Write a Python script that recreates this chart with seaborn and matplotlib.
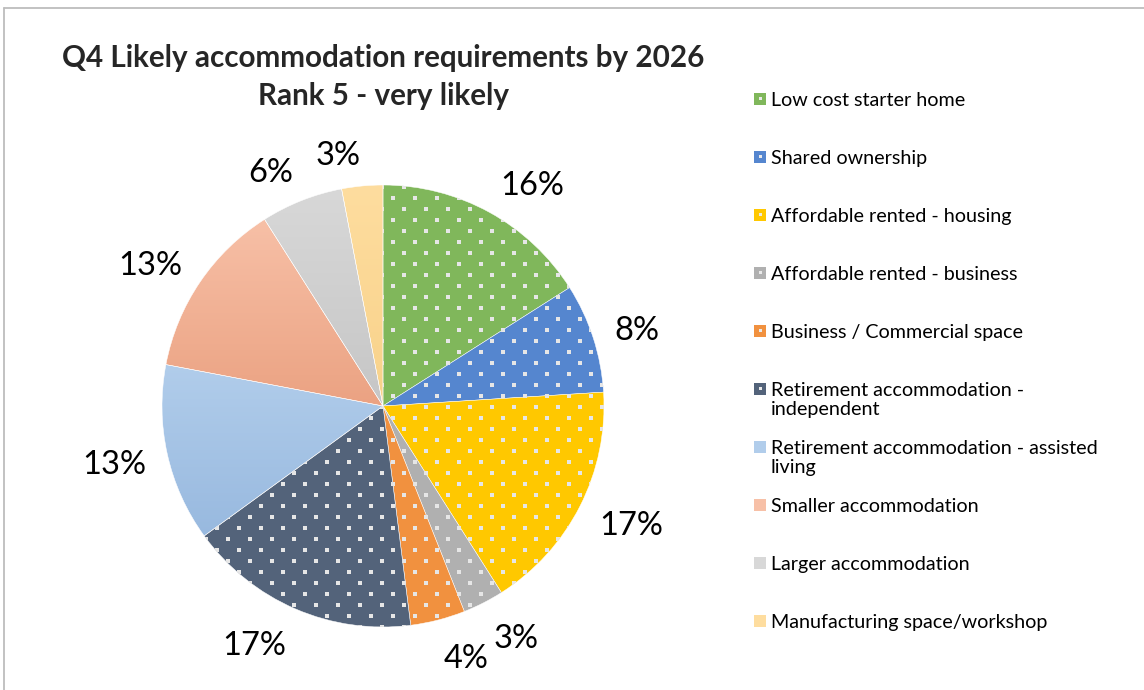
import numpy as np
import matplotlib
matplotlib.use("Agg")
import matplotlib.pyplot as plt
from matplotlib.colors import LinearSegmentedColormap
from matplotlib.patches import Rectangle
from matplotlib.lines import Line2D
import seaborn as sns

# Survey data: share of "very likely" answers per accommodation type
categories = [
    "Low cost starter home",
    "Shared ownership",
    "Affordable rented - housing",
    "Affordable rented - business",
    "Business / Commercial space",
    "Retirement accommodation -\nindependent",
    "Retirement accommodation - assisted\nliving",
    "Smaller accommodation",
    "Larger accommodation",
    "Manufacturing space/workshop",
]
shares = [16, 8, 17, 3, 4, 17, 13, 13, 6, 3]

# Fill styles: dotted solid fills for the first six, soft gradients for the rest
base_colors = ["#80B75B", "#5586CF", "#FFC800", "#B0B0B0", "#F1913F",
               "#53637A", "#A7C6E8", "#F2B194", "#CFCFCF", "#FCD996"]
gradients = {
    6: ("#B1CDEB", "#98B9DF"),
    7: ("#F7C0A7", "#EBA282"),
    8: ("#D8D8D8", "#C6C6C6"),
    9: ("#FEDD9F", "#F8D28A"),
}
dotted = {0, 1, 2, 3, 4, 5}

sns.set_theme(style="white")
plt.rcParams["font.family"] = ["Lato", "DejaVu Sans"]

W, H = 1144, 690
fig = plt.figure(figsize=(W / 100, H / 100), dpi=100)
fig.patch.set_facecolor("white")


def fx(px):
    return px / W


def fy(py):
    return 1 - py / H


# chart frame (top and left edges)
fig.add_artist(Line2D([fx(4), fx(4)], [fy(8), fy(700)], color="#BDBDBD", lw=1.3))
fig.add_artist(Line2D([fx(4), fx(1150)], [fy(8), fy(8)], color="#BDBDBD", lw=1.3))

# pie axes, square in pixels
cx, cy, R = 383, 406, 221
ax = fig.add_axes([fx(cx - R), fy(cy + R), 2 * R / W, 2 * R / H])

wedges, texts, autotexts = ax.pie(
    shares,
    colors=base_colors,
    startangle=90,
    counterclock=False,
    radius=1,
    autopct=lambda p: f"{p:.0f}%",
    pctdistance=1.22,
    wedgeprops=dict(linewidth=0.35, edgecolor="white"),
    textprops=dict(fontsize=23.5, color="black"),
)
ax.set_xlim(-1, 1)
ax.set_ylim(-1, 1)
ax.set_aspect("equal")
ax.axis("off")

# staggered dot lattice used as the texture of the dotted slices
step = 11 / R
rows = np.arange(-1.05, 1.05, step)
pts = []
for i, yy in enumerate(rows):
    off = 0 if i % 2 == 0 else step
    xs = np.arange(-1.05 + off, 1.05, 2 * step)
    pts.extend((x, yy) for x in xs)
pts = np.array(pts)

for i, w in enumerate(wedges):
    if i in gradients:
        top, bottom = gradients[i]
        cmap = LinearSegmentedColormap.from_list(f"g{i}", [bottom, top])
        bb = w.get_path().get_extents()
        grad = np.linspace(0, 1, 256).reshape(-1, 1)
        im = ax.imshow(grad, cmap=cmap, origin="lower", aspect="auto",
                       extent=(bb.x0, bb.x1, bb.y0, bb.y1), zorder=0.5)
        im.set_clip_path(w)
        w.set_facecolor("none")
    if i in dotted:
        sc = ax.scatter(pts[:, 0], pts[:, 1], s=7.5, marker="s",
                        color="#E6E6E6", linewidths=0, zorder=2)
        sc.set_clip_path(w)

ax.set_xlim(-1, 1)
ax.set_ylim(-1, 1)

# "outside end" percentages: anchor on a ring just outside the rim and
# push the text sideways by half its width, away from the vertical axis
renderer = fig.canvas.get_renderer()
ring = (R + 33) / R
for w, t in zip(wedges, autotexts):
    t.set_clip_on(False)
    theta = np.deg2rad((w.theta1 + w.theta2) / 2)
    c, s = np.cos(theta), np.sin(theta)
    half_w = t.get_window_extent(renderer).width / 2
    x = ring * c + np.sign(c) * (half_w - 11 * abs(c)) / R
    y = ring * s - (3 + 4 * max(0.0, -s)) / R
    t.set_position((x, y))

# title
fig.text(fx(383), fy(58), "Q4 Likely accommodation requirements by 2026",
         ha="center", va="center", fontsize=21.3, fontweight="bold")
fig.text(fx(383), fy(96), "Rank 5 - very likely",
         ha="center", va="center", fontsize=21.3, fontweight="bold")

# legend
for i, label in enumerate(categories):
    y = 99 + 58 * i
    col = gradients[i][0] if i in gradients else base_colors[i]
    fig.add_artist(Rectangle((fx(754), fy(y + 6)), 12 / W, 12 / H,
                             facecolor=col, edgecolor="none"))
    if i in dotted:
        fig.add_artist(Rectangle((fx(759), fy(y + 1)), 3 / W, 3 / H,
                                 facecolor="#E9E9E9", edgecolor="none"))
    fig.text(fx(771), fy(y - 7), label, ha="left", va="top",
             fontsize=14.2, linespacing=1.17, color="black")

fig.savefig("out.png", dpi=100)
